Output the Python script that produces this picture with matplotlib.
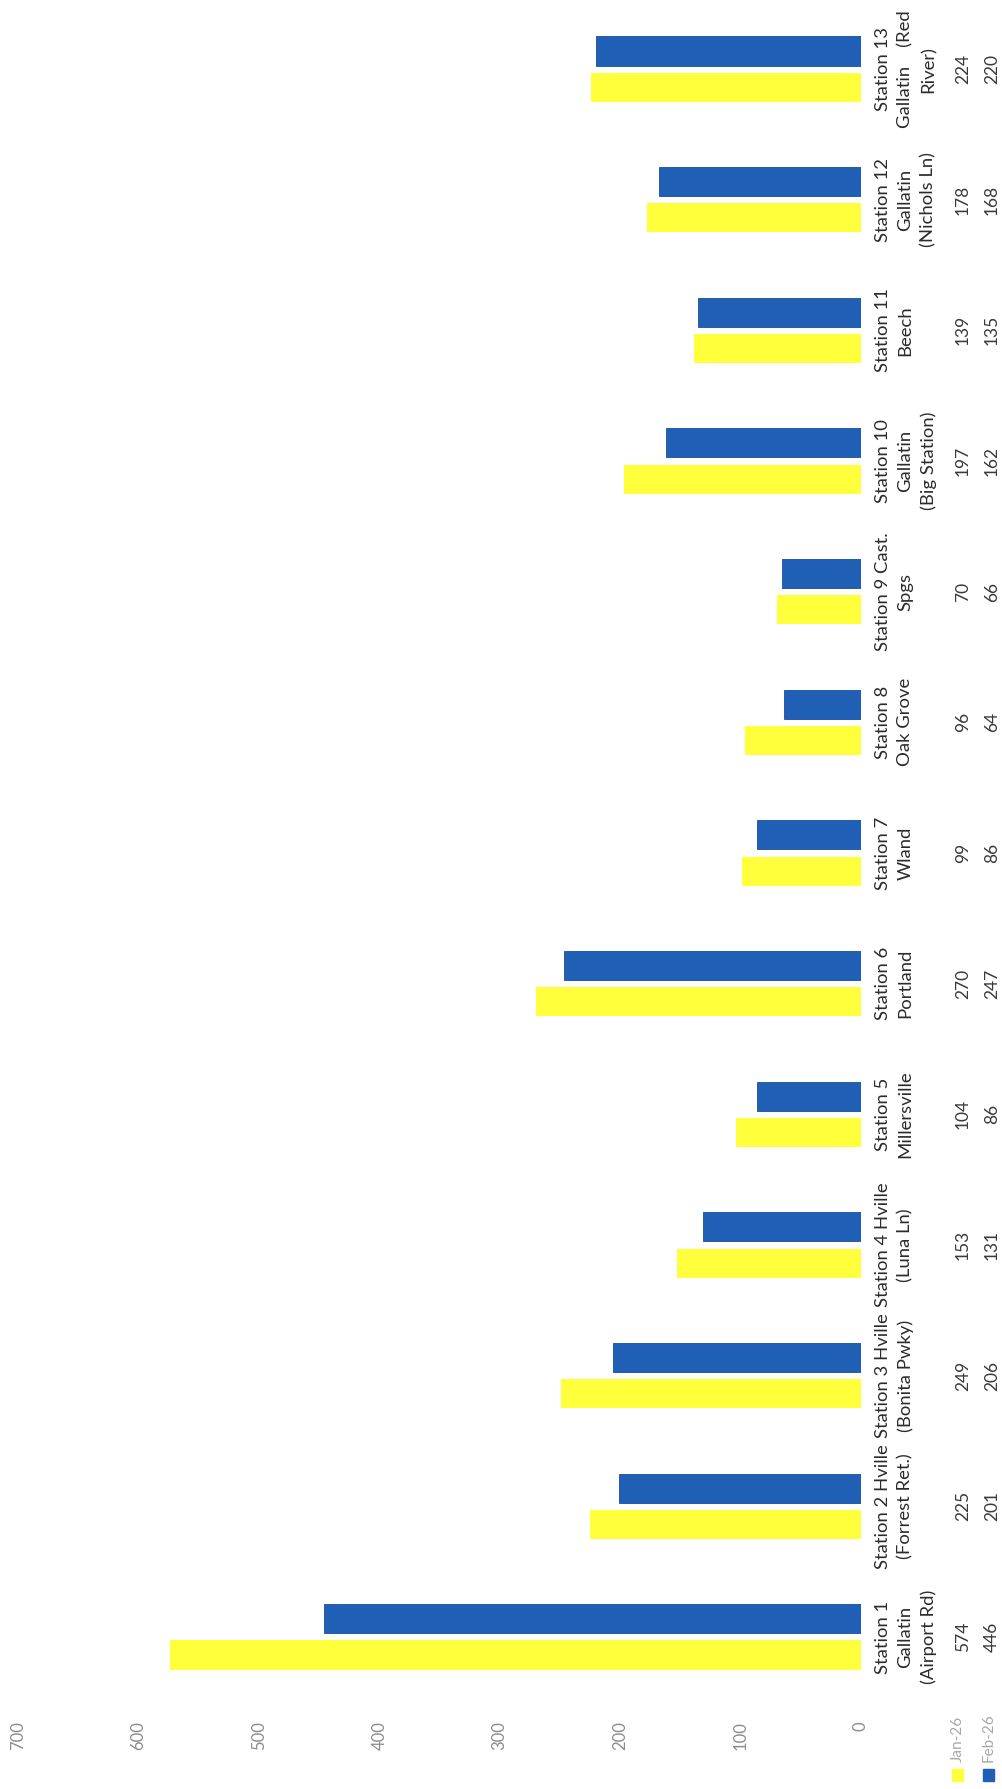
import numpy as np
import matplotlib
matplotlib.use("Agg")
import matplotlib.pyplot as plt
from matplotlib.patches import Rectangle

plt.rcParams['font.family'] = ['Lato', 'DejaVu Sans']

# data
stations = [
    "Station 1\nGallatin\n(Airport Rd)",
    "Station 2 Hville\n(Forrest Ret.)",
    "Station 3 Hville\n(Bonita Pwky)",
    "Station 4 Hville\n(Luna Ln)",
    "Station 5\nMillersville",
    "Station 6\nPortland",
    "Station 7\nWland",
    "Station 8\nOak Grove",
    "Station 9 Cast.\nSpgs",
    "Station 10\nGallatin\n(Big Station)",
    "Station 11\nBeech",
    "Station 12\nGallatin\n(Nichols Ln)",
    "Station 13\nGallatin    (Red\nRiver)",
]
jan = [574, 225, 249, 153, 104, 270, 99, 96, 70, 197, 139, 178, 224]
feb = [446, 201, 206, 131, 86, 247, 86, 64, 66, 162, 135, 168, 220]
series = ["Jan-26", "Feb-26"]
ticks = [0, 100, 200, 300, 400, 500, 600, 700]

yellow = '#FFFF3C'
blue = '#1F5FB6'

W, H = 1003, 1789
fig = plt.figure(figsize=(W / 100, H / 100), dpi=100)

# chart is a column chart scanned sideways: value axis runs right->left
x0, x1 = 18, 861          # pixel x of 700 and 0
yb, yt = 86.7, 1785.3     # pixel y (from bottom) of 0.5 and 13.5
ax = fig.add_axes([x0 / W, yb / H, (x1 - x0) / W, (yt - yb) / H])

pos = np.arange(1, len(stations) + 1)
off = 0.138
bh = 0.222
ax.barh(pos - off, jan, height=bh, color=yellow)
ax.barh(pos + off, feb, height=bh, color=blue, edgecolor='#1a4f9a', linewidth=0.6)

ax.set_xlim(700, 0)
ax.set_ylim(0.5, len(stations) + 0.5)
for s in ax.spines.values():
    s.set_visible(False)
ax.set_yticks([])
ax.set_xticks(ticks)
ax.set_xticklabels([str(t) for t in ticks], rotation=90, color='#8c8c8c', fontsize=12)
ax.tick_params(axis='x', length=0, pad=13.5)


def axfrac(px):
    return (px - x0) / (x1 - x0)


tr = ax.get_yaxis_transform()
for p, lab, j, f in zip(pos, stations, jan, feb):
    ax.text(axfrac(875), p, lab, transform=tr, rotation=90, ha='left', va='center',
            multialignment='center', fontsize=13.3, color='#2b2b2b', linespacing=1.5,
            clip_on=False)
    ax.text(axfrac(963), p, str(j), transform=tr, rotation=90, ha='center', va='center',
            fontsize=12.5, color='#3a3a3a', family=['Liberation Sans Narrow', 'Lato'],
            clip_on=False)
    ax.text(axfrac(992), p, str(f), transform=tr, rotation=90, ha='center', va='center',
            fontsize=12.5, color='#3a3a3a', family=['Liberation Sans Narrow', 'Lato'],
            clip_on=False)

# legend keys of the data table
for name, col, px in zip(series, [yellow, blue], [958, 989]):
    fig.text(px / W, (H - 1762) / H, name, rotation=90, ha='center', va='bottom',
             fontsize=11, color='#a8a8a8')
    fig.patches.append(Rectangle(((px - 6) / W, (H - 1781) / H), 11 / W, 12 / H,
                                 transform=fig.transFigure, color=col))

fig.savefig('out.png', dpi=100)
